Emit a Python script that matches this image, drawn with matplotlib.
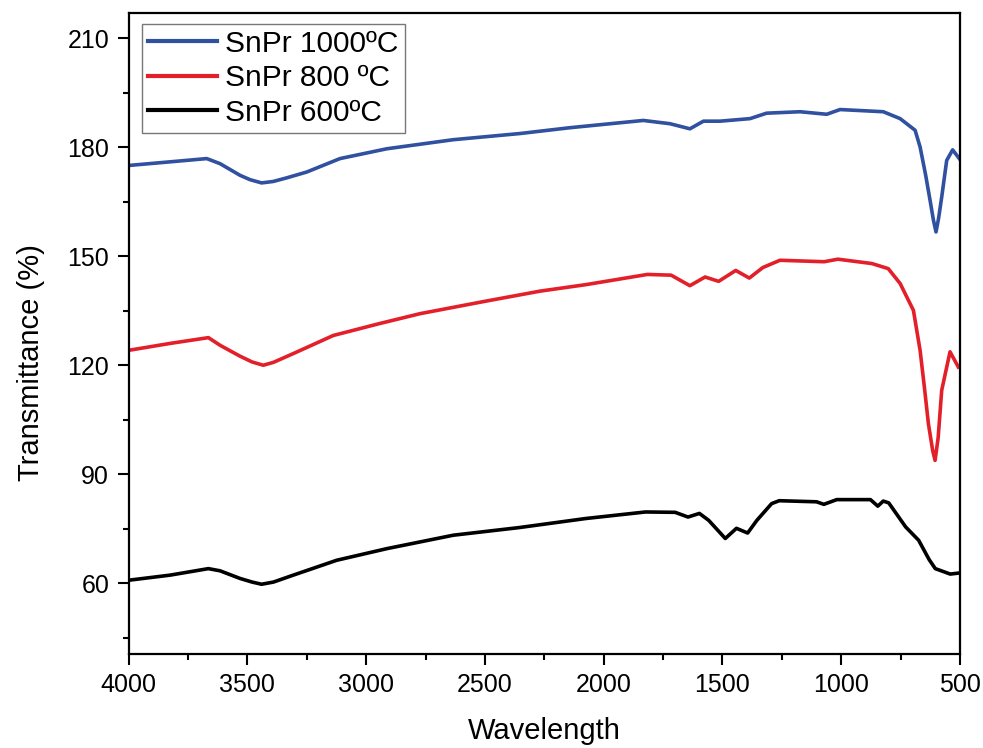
import matplotlib.pyplot as plt
from matplotlib.ticker import MultipleLocator

plt.rcParams['font.family'] = ['Liberation Sans', 'DejaVu Sans']

# SnPr 1000 C
wn_1000 = [4000, 3826, 3671, 3615, 3531, 3489, 3440, 3391, 3334, 3250, 3110, 2913, 2633, 2352, 2142,
           1833, 1721, 1637, 1580, 1510, 1384, 1314, 1173, 1061, 1005, 823, 752, 689,
           668, 645, 626, 612, 601, 590, 577, 556, 531, 503]
t_1000 = [175.0, 176.0, 176.9, 175.5, 172.3, 171.1, 170.2, 170.6, 171.6, 173.2, 176.9, 179.6, 182.1, 183.8, 185.4,
          187.4, 186.5, 185.1, 187.2, 187.2, 187.9, 189.4, 189.8, 189.1, 190.4, 189.8, 187.9, 184.7,
          180.1, 172.5, 165.4, 160.0, 156.7, 160.5, 166.3, 176.4, 179.3, 176.9]

# SnPr 800 C
wn_800 = [4000, 3826, 3664, 3615, 3531, 3480, 3433, 3390, 3307, 3138, 2942, 2773, 2500, 2268, 2074,
          1816, 1716, 1637, 1573, 1516, 1444, 1387, 1330, 1258, 1072, 1014, 871, 802,
          752, 696, 668, 650, 633, 615, 605, 592, 577, 542, 507]
t_800 = [124.1, 126.0, 127.6, 125.5, 122.5, 120.9, 120.0, 120.8, 123.2, 128.2, 131.5, 134.2, 137.6, 140.4, 142.2,
         145.0, 144.8, 141.9, 144.3, 143.1, 146.1, 144.0, 146.9, 148.9, 148.5, 149.2, 148.0, 146.6,
         142.5, 135.1, 124.1, 114.0, 103.9, 96.5, 93.8, 100.0, 113.1, 123.7, 119.5]

# SnPr 600 C
wn_600 = [4000, 3826, 3664, 3615, 3531, 3480, 3440, 3390, 3307, 3124, 2913, 2633, 2356, 2075, 1824,
          1699, 1645, 1597, 1558, 1488, 1441, 1394, 1355, 1293, 1261, 1104, 1073, 1019,
          877, 846, 823, 800, 729, 674, 630, 604, 541, 502]
t_600 = [60.8, 62.2, 64.0, 63.4, 61.3, 60.3, 59.7, 60.3, 62.2, 66.3, 69.5, 73.2, 75.3, 77.8, 79.6,
         79.5, 78.2, 79.2, 77.3, 72.3, 75.1, 73.8, 77.3, 81.9, 82.7, 82.4, 81.7, 83.0,
         83.0, 81.2, 82.6, 82.1, 75.5, 71.8, 66.5, 64.0, 62.5, 62.8]

fig = plt.figure(figsize=(9.83, 7.48), dpi=100)
ax = fig.add_axes([0.1308, 0.1257, 0.8458, 0.857])

ax.plot(wn_1000, t_1000, color='#3050a0', lw=2.6, label='SnPr 1000ºC')
ax.plot(wn_800, t_800, color='#e3202a', lw=2.6, label='SnPr 800 ºC')
ax.plot(wn_600, t_600, color='black', lw=2.6, label='SnPr 600ºC')

ax.set_xlim(4000, 500)
ax.set_ylim(40.5, 217)
ax.xaxis.set_major_locator(MultipleLocator(500))
ax.xaxis.set_minor_locator(MultipleLocator(250))
ax.yaxis.set_major_locator(MultipleLocator(30))
ax.yaxis.set_minor_locator(MultipleLocator(15))
ax.set_yticks([60, 90, 120, 150, 180, 210])
ax.tick_params(which='major', direction='out', length=8, width=1.5, labelsize=18, pad=6)
ax.tick_params(which='minor', direction='out', length=4, width=1.5)
for s in ax.spines.values():
    s.set_linewidth(1.6)

ax.set_xlabel('Wavelength', fontsize=21, labelpad=14)
ax.set_ylabel('Transmittance (%)', fontsize=21)
ax.yaxis.set_label_coords(-0.101, 0.455)

leg = ax.legend(loc='upper left', bbox_to_anchor=(0.016, 0.983), borderaxespad=0,
                fontsize=21.5, frameon=True, fancybox=False, edgecolor='#555555',
                handlelength=2.3, handletextpad=0.3, labelspacing=0.22, borderpad=0.2)
leg.get_frame().set_linewidth(1.0)
for h in leg.get_lines():
    h.set_linewidth(3)

fig.savefig('out.png', dpi=100)
